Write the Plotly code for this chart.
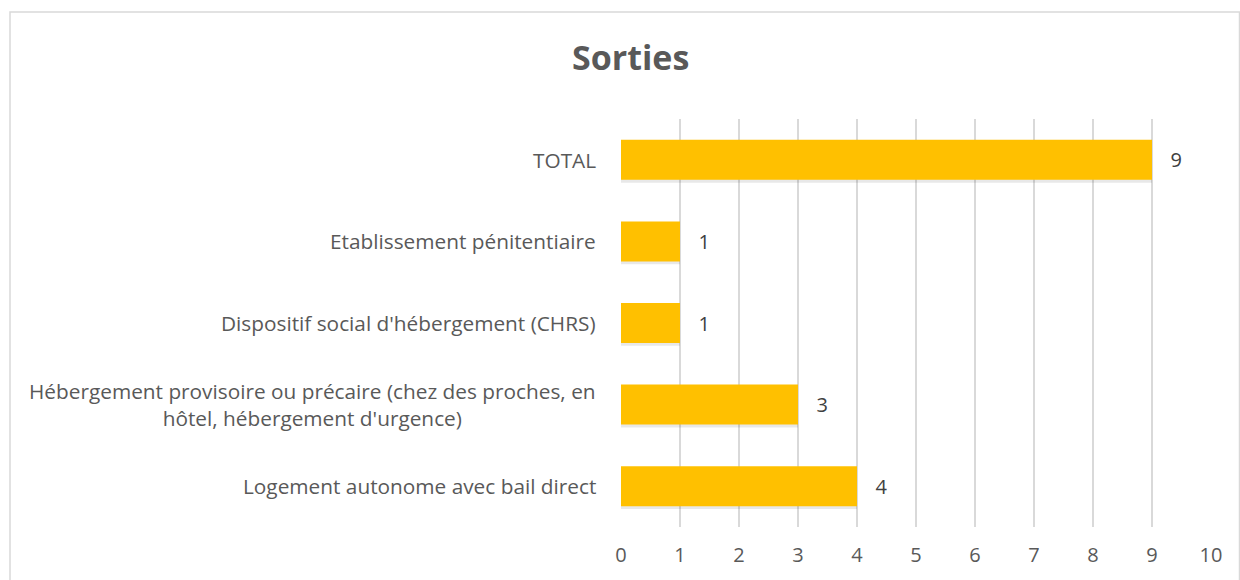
import plotly.graph_objects as go

categories = [
    "Logement autonome avec bail direct",
    "Hébergement provisoire ou précaire (chez des proches, en<br>hôtel, hébergement d'urgence)",
    "Dispositif social d'hébergement (CHRS)",
    "Etablissement pénitentiaire",
    "TOTAL",
]
values = [4, 3, 1, 1, 9]
x_ticks = list(range(0, 11))
title_text = "Sorties"

W, H = 1240, 580
L, R, T, B = 621, 29, 119, 53

def px_to_paper_x(px):
    return (px - L) / (W - L - R)

def px_to_paper_y(py):
    return (H - B - py) / (H - T - B)

FONT = "Open Sans"
BAR_W = 0.49

fig = go.Figure()

# soft shadow below bars
fig.add_trace(go.Bar(
    y=categories, x=values, orientation="h",
    marker=dict(color="rgba(0,0,0,0.09)", line=dict(width=0)),
    width=BAR_W, offset=-BAR_W / 2 - 0.035,
    hoverinfo="skip", showlegend=False,
))

# bars with data labels
fig.add_trace(go.Bar(
    y=categories, x=values, orientation="h",
    marker=dict(color="#FFC000", line=dict(width=0)),
    width=BAR_W, offset=-BAR_W / 2,
    texttemplate="   %{x}",
    textposition="outside",
    textfont=dict(family=FONT, size=20, color="#404040"),
    cliponaxis=False,
    hoverinfo="skip", showlegend=False,
))

annotations = []
for c in categories:
    annotations.append(dict(
        x=px_to_paper_x(598), xref="paper", y=c, yref="y",
        text=c, showarrow=False, xanchor="right", align="center",
        font=dict(family=FONT, size=20.8, color="#595959"),
    ))
annotations.append(dict(
    x=px_to_paper_x(630), xref="paper", y=px_to_paper_y(57), yref="paper",
    text="<b>" + title_text + "</b>", showarrow=False, xanchor="center", yanchor="middle",
    font=dict(family=FONT, size=34, color="#595959"),
))

fig.update_layout(
    width=W, height=H,
    margin=dict(l=L, r=R, t=T, b=B),
    paper_bgcolor="white", plot_bgcolor="white",
    showlegend=False,
    barmode="overlay",
    annotations=annotations,
    xaxis=dict(
        range=[0, 10], tickvals=x_ticks, showgrid=True, gridcolor="#D9D9D9", gridwidth=1.5,
        zeroline=False, showline=False, ticks="", ticklabelstandoff=14,
        tickfont=dict(family=FONT, size=20, color="#595959"), fixedrange=True,
    ),
    yaxis=dict(
        categoryorder="array", categoryarray=categories,
        showticklabels=False, showgrid=False, zeroline=False, showline=False, ticks="",
        fixedrange=True,
    ),
    shapes=[dict(
        type="rect", xref="paper", yref="paper",
        x0=px_to_paper_x(10), x1=px_to_paper_x(1239.5),
        y0=px_to_paper_y(600), y1=px_to_paper_y(12),
        line=dict(color="#D9D9D9", width=1.5), fillcolor="rgba(0,0,0,0)", layer="below",
    )],
)

fig.write_html(
    "out.html",
    config={"displayModeBar": False},
    post_script="document.body.style.margin='0';document.body.style.overflow='hidden';",
)
